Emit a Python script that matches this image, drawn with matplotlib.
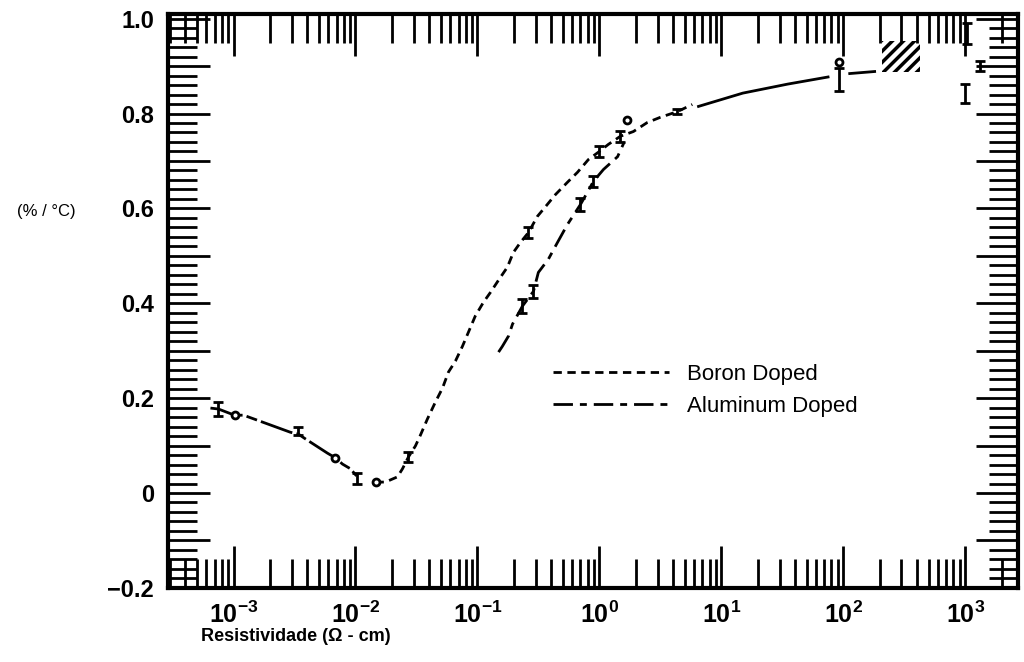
import matplotlib.pyplot as plt
import matplotlib.patches as mpatches
from matplotlib.ticker import LogLocator, FixedLocator, NullFormatter, MultipleLocator

plt.rcParams['font.family'] = ['Liberation Sans', 'DejaVu Sans']
plt.rcParams['mathtext.fontset'] = 'custom'
plt.rcParams['mathtext.rm'] = 'Liberation Sans:bold'
plt.rcParams['mathtext.bf'] = 'Liberation Sans:bold'
plt.rcParams['hatch.linewidth'] = 2.5

# Boron doped: minimum -> upper branch
b_x = [1.46e-2, 1.76e-2, 2.21e-2, 2.43e-2, 2.72e-2, 3.1e-2, 3.41e-2, 3.89e-2, 4.53e-2,
       5.17e-2, 5.79e-2, 6.6e-2, 7.53e-2, 8.44e-2, 9.6e-2, 0.112, 0.128, 0.151, 0.176,
       0.197, 0.225, 0.262, 0.310, 0.368, 0.436, 0.547, 0.661, 0.813, 1.0, 1.186,
       1.486, 1.90, 2.47, 3.16, 4.36, 5.78]
b_y = [0.023, 0.023, 0.034, 0.051, 0.076, 0.099, 0.122, 0.156, 0.192,
       0.221, 0.255, 0.278, 0.309, 0.339, 0.373, 0.402, 0.423, 0.451, 0.476,
       0.507, 0.528, 0.549, 0.583, 0.606, 0.629, 0.655, 0.676, 0.703, 0.720, 0.735,
       0.752, 0.762, 0.781, 0.792, 0.804, 0.819]

# Aluminum doped: low resistivity part and lower branch
al_left_x = [6.47e-4, 7.53e-4, 1.02e-3, 1.21e-3, 2.93e-3, 3.41e-3, 3.89e-3, 5.89e-3,
             6.86e-3, 7.82e-3, 9.1e-3, 1.02e-2]
al_left_y = [0.179, 0.177, 0.164, 0.164, 0.128, 0.124, 0.114, 0.084,
             0.074, 0.061, 0.051, 0.036]
al_low_x = [0.149, 0.160, 0.180, 0.194, 0.234, 0.288, 0.316, 0.382, 0.453, 0.547,
            0.699, 0.798, 0.894, 1.08, 1.41, 1.6]
al_low_y = [0.297, 0.309, 0.331, 0.356, 0.394, 0.425, 0.465, 0.493, 0.528, 0.566,
            0.608, 0.634, 0.657, 0.682, 0.709, 0.74]

# high resistivity part
hi_x = [6.5, 15, 35, 75]
hi_y = [0.815, 0.843, 0.862, 0.877]
tail_x = [110, 190]
tail_y = [0.884, 0.889]

# error-bar points
e_x = [7.53e-4, 3.41e-3, 1.02e-2, 2.72e-2, 0.262, 0.234, 0.288, 0.699, 0.894, 1.0, 1.486, 4.36, 92.7, 1037, 1000, 1327]
e_y = [0.177, 0.131, 0.030, 0.076, 0.549, 0.394, 0.425, 0.608, 0.657, 0.720, 0.752, 0.804, 0.872, 0.968, 0.842, 0.900]
e_err = [0.014, 0.008, 0.012, 0.010, 0.012, 0.014, 0.014, 0.014, 0.012, 0.012, 0.012, 0.006, 0.025, 0.022, 0.020, 0.010]

# circle points
c_x = [1.02e-3, 6.86e-3, 1.46e-2, 1.70, 92.7]
c_y = [0.164, 0.074, 0.023, 0.787, 0.909]

# hatched region
box_x = [209, 428]
box_y = [0.888, 0.952]

fig = plt.figure(figsize=(10.24, 6.62), dpi=100)
ax = fig.add_axes([0.164, 0.112, 0.830, 0.867])

boron_ls = (0, (3, 2))
al_ls = (0, (7, 2.5, 2.5, 2.5))

ax.plot(b_x, b_y, color='black', lw=2, ls=boron_ls, label='Boron Doped')
ax.plot(al_left_x, al_left_y, color='black', lw=2, ls=(0, (12, 1.5, 4, 1.5)))
ax.plot(al_low_x, al_low_y, color='black', lw=2, ls=al_ls, label='Aluminum Doped')
ax.plot(hi_x, hi_y, color='black', lw=2)
ax.plot(tail_x, tail_y, color='black', lw=2, ls=(0, (10, 2)))

ax.errorbar(e_x, e_y, yerr=e_err, fmt='none', ecolor='black', elinewidth=2, capsize=3.5, capthick=2)
ax.plot(c_x, c_y, 'o', color='black', ms=5, mfc='white', mew=2)

hb = mpatches.Rectangle((box_x[0], box_y[0]), box_x[1] - box_x[0], box_y[1] - box_y[0],
                        facecolor='white', edgecolor='black', hatch='///', lw=0)
ax.add_patch(hb)

ax.set_xscale('log')
ax.set_xlim(2.9e-4, 2.7e3)
ax.set_ylim(-0.2, 1.01)

xt = [1e-3, 1e-2, 1e-1, 1e0, 1e1, 1e2, 1e3]
xl = ['$10^{-3}$', '$10^{-2}$', '$10^{-1}$', '$10^{0}$', '$10^{1}$', '$10^{2}$', '$10^{3}$']
ax.set_xticks(xt)
ax.set_xticklabels(xl, fontsize=18)
ax.xaxis.set_minor_locator(LogLocator(base=10, subs=range(2, 10), numticks=20))
ax.xaxis.set_minor_formatter(NullFormatter())

yt = [-0.2, -0.1, 0, 0.1, 0.2, 0.3, 0.4, 0.5, 0.6, 0.7, 0.8, 0.9, 1.0]
yl = ['\u22120.2', '', '0', '', '0.2', '', '0.4', '', '0.6', '', '0.8', '', '1.0']
ax.yaxis.set_major_locator(FixedLocator(yt))
ax.set_yticklabels(yl, fontsize=17, fontweight='bold')
ax.yaxis.set_minor_locator(MultipleLocator(0.02))

ax.tick_params(which='both', direction='in', top=True, right=True, width=2)
ax.tick_params(which='major', length=30, pad=10)
ax.tick_params(which='minor', length=21)
for s in ax.spines.values():
    s.set_linewidth(3)

ax.set_xlabel('Resistividade (\u03a9 - cm)', fontsize=13, fontweight='bold', x=0.15, labelpad=0)
fig.text(0.045, 0.68, '(% / \u00b0C)', fontsize=12, ha='center', va='center')

ax.legend(loc='upper left', bbox_to_anchor=(0.43, 0.425), frameon=False,
          fontsize=16, handlelength=5.2, labelspacing=0.5)

plt.savefig('out.png', dpi=100)
